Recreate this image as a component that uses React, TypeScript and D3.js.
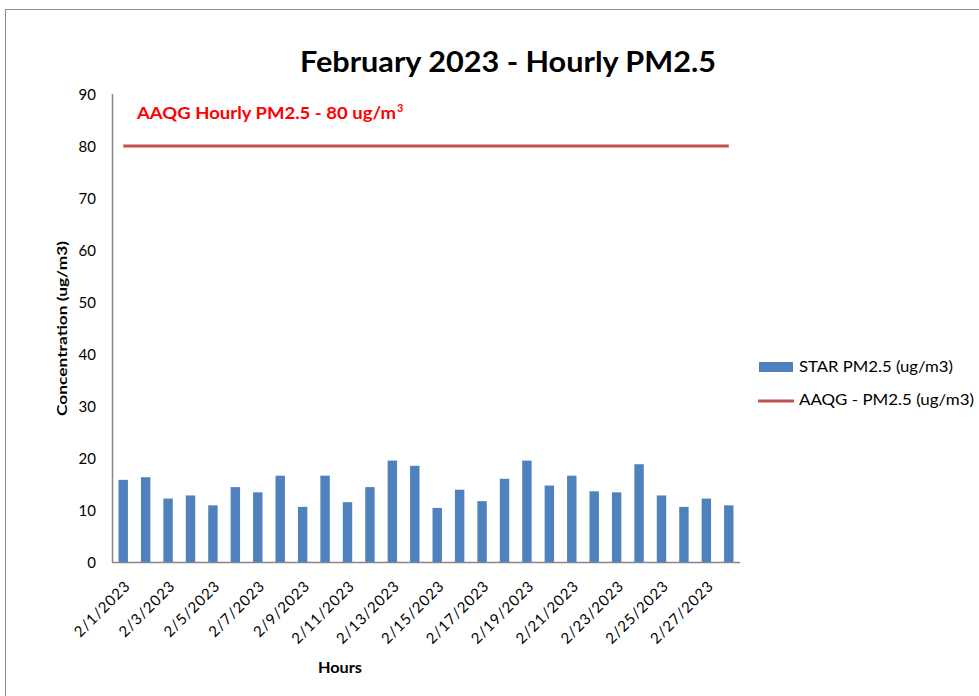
import React from "react";
import * as d3 from "d3";

const dates: string[] = Array.from({ length: 28 }, (_, i) => `2/${i + 1}/2023`);
const starPM25: number[] = [
  15.8, 16.3, 12.2, 12.8, 10.9, 14.4, 13.4, 16.6, 10.6, 16.6, 11.5, 14.4, 19.5, 18.5,
  10.4, 13.9, 11.7, 16.0, 19.5, 14.7, 16.6, 13.6, 13.4, 18.8, 12.8, 10.6, 12.2, 10.9,
];
const aaqgLimit = 80;
const yTicks: number[] = [0, 10, 20, 30, 40, 50, 60, 70, 80, 90];

const W = 979;
const H = 696;
const left = 112;
const right = 740;
const top = 94;
const bottom = 562;
const font = "Lato, 'Open Sans', sans-serif";

export default function App() {
  const x = d3.scaleBand<string>().domain(dates).range([left, right]).paddingInner(0.58).paddingOuter(0.29);
  const y = d3.scaleLinear().domain([0, 90]).range([bottom, top]);
  const line = d3
    .line<string>()
    .x((d) => (x(d) as number) + x.bandwidth() / 2)
    .y(() => y(aaqgLimit));

  return (
    <svg width={W} height={H} style={{ position: "absolute", left: 0, top: 0, background: "#fff" }}>
      <rect x={5.5} y={9.5} width={990} height={700} fill="#fff" stroke="#8c8c8c" strokeWidth={1} />
      <text
        x={300}
        y={72}
        fontFamily={font}
        fontWeight="bold"
        fontSize={28}
        fill="#000"
        textLength={416}
        lengthAdjust="spacingAndGlyphs"
      >
        February 2023 - Hourly PM2.5
      </text>
      {/* axes */}
      <line x1={left + 0.5} x2={left + 0.5} y1={top} y2={bottom} stroke="#868686" strokeWidth={1.5} />
      <line x1={left} x2={right} y1={bottom + 0.5} y2={bottom + 0.5} stroke="#868686" strokeWidth={1.5} />
      {yTicks.map((t) => (
        <text key={t} x={96} y={y(t) + 5.5} textAnchor="end" fontFamily={font} fontSize={15} fill="#000">
          {t}
        </text>
      ))}
      <text
        transform={`translate(67,${(top + bottom) / 2 + 0.5}) rotate(-90)`}
        textAnchor="middle"
        fontFamily={font}
        fontWeight="bold"
        fontSize={13.5}
        fill="#000"
        textLength={175}
        lengthAdjust="spacingAndGlyphs"
      >
        Concentration (ug/m3)
      </text>
      {/* bars */}
      {dates.map((d, i) => (
        <rect
          key={d}
          x={x(d)}
          y={y(starPM25[i])}
          width={x.bandwidth()}
          height={bottom - y(starPM25[i])}
          fill="#4f81bd"
        />
      ))}
      {/* limit line */}
      <path d={line(dates) || ""} stroke="#c0504d" strokeWidth={3} fill="none" />
      <text
        x={137}
        y={119}
        fontFamily={font}
        fontWeight="bold"
        fontSize={17}
        fill="#ff0000"
        textLength={259}
        lengthAdjust="spacingAndGlyphs"
      >
        AAQG Hourly PM2.5 - 80 ug/m
      </text>
      <text x={397} y={112} fontFamily={font} fontWeight="bold" fontSize={11} fill="#ff0000">
        3
      </text>
      {/* x labels */}
      {dates.map((d, i) =>
        i % 2 === 0 ? (
          <text
            key={d}
            transform={`translate(${(x(d) as number) + x.bandwidth() / 2 + 8},${bottom + 25}) rotate(-45)`}
            textAnchor="end"
            fontFamily={font}
            fontSize={15}
            letterSpacing={0.8}
            fill="#000"
          >
            {d}
          </text>
        ) : null
      )}
      <text
        x={318}
        y={673}
        fontFamily={font}
        fontWeight="bold"
        fontSize={15}
        fill="#000"
        textLength={44}
        lengthAdjust="spacingAndGlyphs"
      >
        Hours
      </text>
      {/* legend */}
      <rect x={759} y={362} width={34} height={10} fill="#4f81bd" />
      <text
        x={799}
        y={372}
        fontFamily={font}
        fontSize={15}
        fill="#000"
        textLength={154}
        lengthAdjust="spacingAndGlyphs"
      >
        STAR PM2.5 (ug/m3)
      </text>
      <line x1={758} x2={794} y1={401} y2={401} stroke="#c0504d" strokeWidth={3} />
      <text
        x={799}
        y={405}
        fontFamily={font}
        fontSize={15}
        fill="#000"
        textLength={175}
        lengthAdjust="spacingAndGlyphs"
      >
        AAQG - PM2.5 (ug/m3)
      </text>
    </svg>
  );
}
